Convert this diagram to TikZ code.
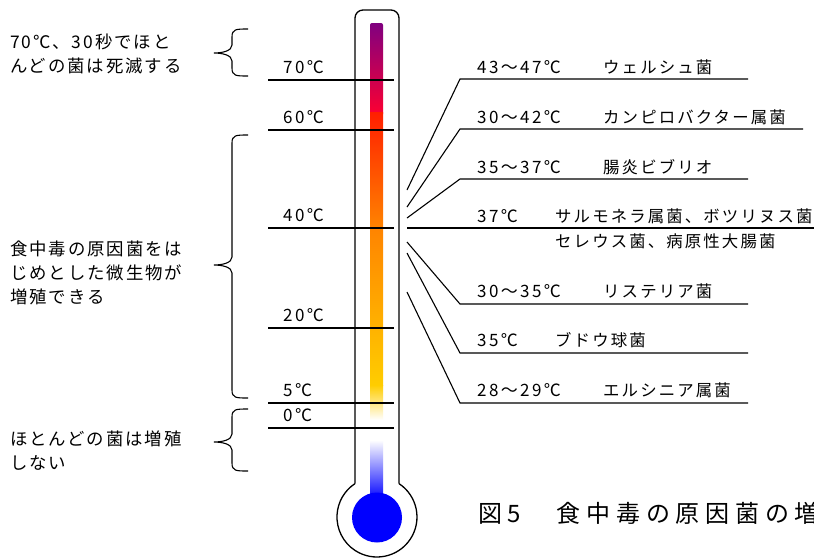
\documentclass[tikz,border=0pt]{standalone}
\usepackage{fontspec}
\newfontfamily\jpT[LetterSpace=14]{Noto Sans CJK JP}
\newfontfamily\jpN[LetterSpace=13]{Noto Sans CJK JP}
\newfontfamily\jpL[LetterSpace=11]{Noto Sans CJK JP}
\newfontfamily\jpH[LetterSpace=24]{Noto Sans CJK JP}
\definecolor{cPurple}{RGB}{128,0,128}
\definecolor{cMag}{RGB}{200,0,95}
\definecolor{cRed}{RGB}{255,0,48}
\definecolor{cRedOr}{RGB}{255,30,0}
\definecolor{cOrange}{RGB}{255,132,0}
\definecolor{cGold}{RGB}{255,205,0}
\definecolor{cBlue}{RGB}{0,0,255}
\newcommand\mybrace[3]{\draw[bracestyle] (248,#1) .. controls (236,#1) and (232,#1) .. (232,#1+8) -- (232,#2-8) .. controls (232,#2-2) and (222,#2) .. (214,#2) .. controls (222,#2) and (232,#2+2) .. (232,#2+8) -- (232,#3-8) .. controls (232,#3) and (236,#3) .. (248,#3);}
\begin{document}
\begin{tikzpicture}[x=1pt,y=-1pt,
  temp/.style={anchor=west,inner sep=0pt,font=\jpT\fontsize{17}{19}\selectfont},
  bname/.style={anchor=west,inner sep=0pt,font=\jpN\fontsize{16.4}{18}\selectfont},
  note/.style={anchor=west,inner sep=0pt,align=left,font=\jpL\fontsize{17.4}{24}\selectfont},
  title/.style={anchor=west,inner sep=0pt,font=\jpH\fontsize{24}{28}\selectfont},
  outline/.style={line width=1.3pt,line join=round},
  scaleline/.style={line width=1.2pt},
  leader/.style={line width=1.1pt},
  bracestyle/.style={line width=1.1pt}]
\useasboundingbox (0,0) rectangle (814,558);
\fill[white] (0,0) rectangle (814,558);
% thermometer outline
\draw[outline,rounded corners=8pt] (355,483.6) -- (355,10) -- (399,10) -- (399,483.6);
\draw[outline] (399,483.6) arc[start angle=-56.6,end angle=236.6,radius=40];
% coloured column
\shade[top color=cPurple, middle color=cMag, bottom color=cRed, rounded corners=2pt] (370,23) rectangle (383,116);
\shade[top color=cRedOr, bottom color=cOrange] (370,112) rectangle (383,228.5);
\shade[top color=cOrange, bottom color=cGold] (370,228) rectangle (383,385.5);
\shade[top color=cGold, bottom color=white] (370,385) rectangle (383,420);
\shade[top color=white, bottom color=cBlue] (370,440) rectangle (383,500);
\fill[cBlue] (377,517.5) circle[radius=25];
% scale lines and labels
\foreach \yy/\lab/\nm in {80/70/t70,130/60/t60,228/40/t40,328/20/t20,403/5/t5,428/0/t0}{
  \draw[scaleline] (268,\yy) -- (394,\yy);
  \node[temp] (\nm) at (283,\yy-13) {\lab℃};
}
% right leader lines
\draw[leader] (407,190) -- (460,79) -- (748,79);
\draw[leader] (407,207) -- (460,129) -- (803,129);
\draw[leader] (407,218) -- (460,179) -- (748,179);
\draw[leader] (407,228) -- (814,228);
\draw[leader] (407,242) -- (460,304) -- (748,304);
\draw[leader] (407,253) -- (460,353) -- (748,353);
\draw[leader] (407,292) -- (460,403) -- (748,403);
% right labels
\node[temp] (r1) at (477,67) {43～47℃};
\node[bname] (n1) at (603,67) {ウェルシュ菌};
\node[temp] (r2) at (477,117) {30～42℃};
\node[bname] (n2) at (603,117) {カンピロバクター属菌};
\node[temp] (r3) at (477,167) {35～37℃};
\node[bname] (n3) at (603,167) {腸炎ビブリオ};
\node[temp] (r4) at (477,216) {37℃};
\node[bname] (n4) at (555,216) {サルモネラ属菌、ボツリヌス菌};
\node[bname] (n5) at (555,241) {セレウス菌、病原性大腸菌};
\node[temp] (r6) at (477,291) {30～35℃};
\node[bname] (n6) at (603,291) {リステリア菌};
\node[temp] (r7) at (477,340) {35℃};
\node[bname] (n7) at (555,340) {ブドウ球菌};
\node[temp] (r8) at (477,390) {28～29℃};
\node[bname] (n8) at (603,390) {エルシニア属菌};
% braces and notes
\mybrace{29}{53}{76}
\mybrace{135}{265}{398}
\mybrace{409}{442}{471}
\node[note] (a1) at (10,54) {70℃、30秒でほと\\んどの菌は死滅する};
\node[note] (a2) at (10,273) {食中毒の原因菌をは\\じめとした微生物が\\増殖できる};
\node[note] (a3) at (10,451) {ほとんどの菌は増殖\\しない};
% title (cut off at the right edge, as in the reference)
\begin{scope}
\clip (0,0) rectangle (814,558);
\node[title] (ttl) at (478,513) {図5　食中毒の原因菌の増};
\end{scope}
\end{tikzpicture}
\end{document}
